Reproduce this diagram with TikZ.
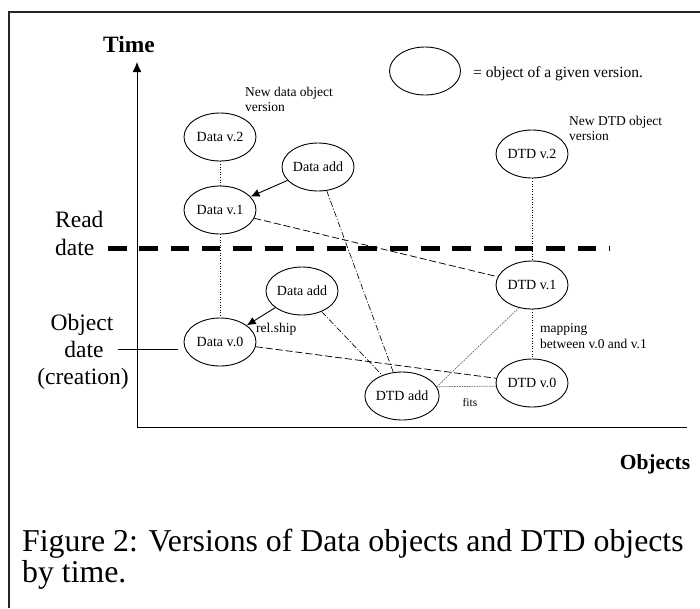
\documentclass[tikz,border=0pt]{standalone}
\usepackage{fontspec}
\setmainfont{Liberation Serif}
\usetikzlibrary{arrows.meta,shapes.geometric}
\begin{document}
\begin{tikzpicture}[x=1pt,y=-1pt,
  obj/.style={draw,ellipse,line width=0.9pt,minimum width=72pt,minimum height=48pt,inner sep=0pt,font=\fontsize{14}{16}\selectfont},
  small/.style={font=\fontsize{13.5}{16}\selectfont,inner sep=0pt},
  big/.style={font=\fontsize{23.5}{27}\selectfont,inner sep=0pt},
  vdot/.style={dotted,line width=0.6pt},
  ldash/.style={dash pattern=on 7pt off 3pt,line width=0.75pt},
  ddot/.style={dash pattern=on 6pt off 2pt on 1pt off 2pt,line width=0.65pt},
  gdot/.style={dash pattern=on 1.5pt off 1pt,line width=0.7pt,draw=black!60},
  arr/.style={-{Latex[length=9pt,width=8pt]},line width=0.9pt}
]
\useasboundingbox (0,0) rectangle (700,608);
% frame
\draw[line width=1.6pt,draw=black!85] (700,12) -- (9,12) -- (9,608);
% axes
\coordinate (O) at (137,427);
\coordinate (Ytop) at (137,62);
\coordinate (Xend) at (687,427);
\draw[line width=1pt,-{Latex[length=10pt,width=9pt]}] (O) -- (Ytop);
\draw[line width=1pt] (O) -- (Xend);
\node[font=\bfseries\fontsize{23.4}{27}\selectfont,inner sep=0pt,anchor=base] (time) at (129,52) {Time};
\node[font=\bfseries\fontsize{21.5}{26}\selectfont,inner sep=0pt,anchor=base] (objs) at (655,469) {Objects};
% read date
\coordinate (rd1) at (108,248);
\coordinate (rd2) at (610,248);
\draw[line width=5pt,dash pattern=on 18.5pt off 12.8pt] (rd1) -- (rd2);
\node[big,anchor=base west] (read) at (55,227) {Read};
\node[big,anchor=base west] (date) at (55,255) {date};
% object date
\node[big,anchor=base] (od1) at (82,330) {Object};
\node[big,anchor=base] (od2) at (84,357) {date};
\node[big,anchor=base] (od3) at (83,384) {(creation)};
\coordinate (ods) at (118,349);
\coordinate (odl) at (178,349);
\draw[line width=0.9pt] (ods) -- (odl);
% legend
\node[draw,ellipse,line width=0.9pt,minimum width=71pt,minimum height=48pt] (leg) at (425,71) {};
\node[font=\fontsize{15.5}{18}\selectfont,inner sep=0pt,anchor=base west] (legt) at (473,77) {= object of a given version.};
% objects
\node[obj] (d2) at (220,137) {Data v.2};
\node[obj] (d1) at (220,210) {Data v.1};
\node[obj] (d0) at (220,342) {Data v.0};
\node[obj] (da1) at (318,167) {Data add};
\node[obj] (da0) at (302,291) {Data add};
\node[obj] (t2) at (532,154) {DTD v.2};
\node[obj] (t1) at (532,285) {DTD v.1};
\node[obj] (t0) at (532,383) {DTD v.0};
\node[obj] (ta) at (402,396) {DTD add};
% labels
\node[small,anchor=base west] (nd1) at (245,96) {New data object};
\node[small,anchor=base west] (nd2) at (245,111) {version};
\node[small,anchor=base west] (nt1) at (569,125) {New DTD object};
\node[small,anchor=base west] (nt2) at (569,140) {version};
\node[small,anchor=base west] (mp1) at (540,332) {mapping};
\node[small,anchor=base west] (mp2) at (540,348) {between v.0 and v.1};
\node[small,anchor=base west] (rel) at (256,332) {rel.ship};
\node[font=\fontsize{11.5}{14}\selectfont,inner sep=0pt,anchor=base] (fits) at (470,406) {fits};
% connectors
\draw[vdot] (d2) -- (d1);
\draw[vdot] (d1) -- (d0);
\draw[vdot] (t2) -- (t1);
\draw[vdot] (t1) -- (t0);
\draw[arr] (da1) -- (d1);
\draw[arr] (da0) -- (d0);
\draw[ldash] (d1) -- (t1);
\draw[ldash] (d0) -- (t0);
\draw[ddot] (da1) -- (ta);
\draw[ddot] (da0) -- (ta);
\draw[gdot] (ta.15) -- (t1.240);
\draw[gdot] (ta.15) -- (t0.185);
% caption
\node[font=\fontsize{31.8}{36}\selectfont,inner sep=0pt,anchor=base west] (cap1) at (22,551) {Figure 2: Versions of Data objects and DTD objects};
\node[font=\fontsize{31.8}{36}\selectfont,inner sep=0pt,anchor=base west] (cap2) at (22,582) {by time.};
\end{tikzpicture}
\end{document}
